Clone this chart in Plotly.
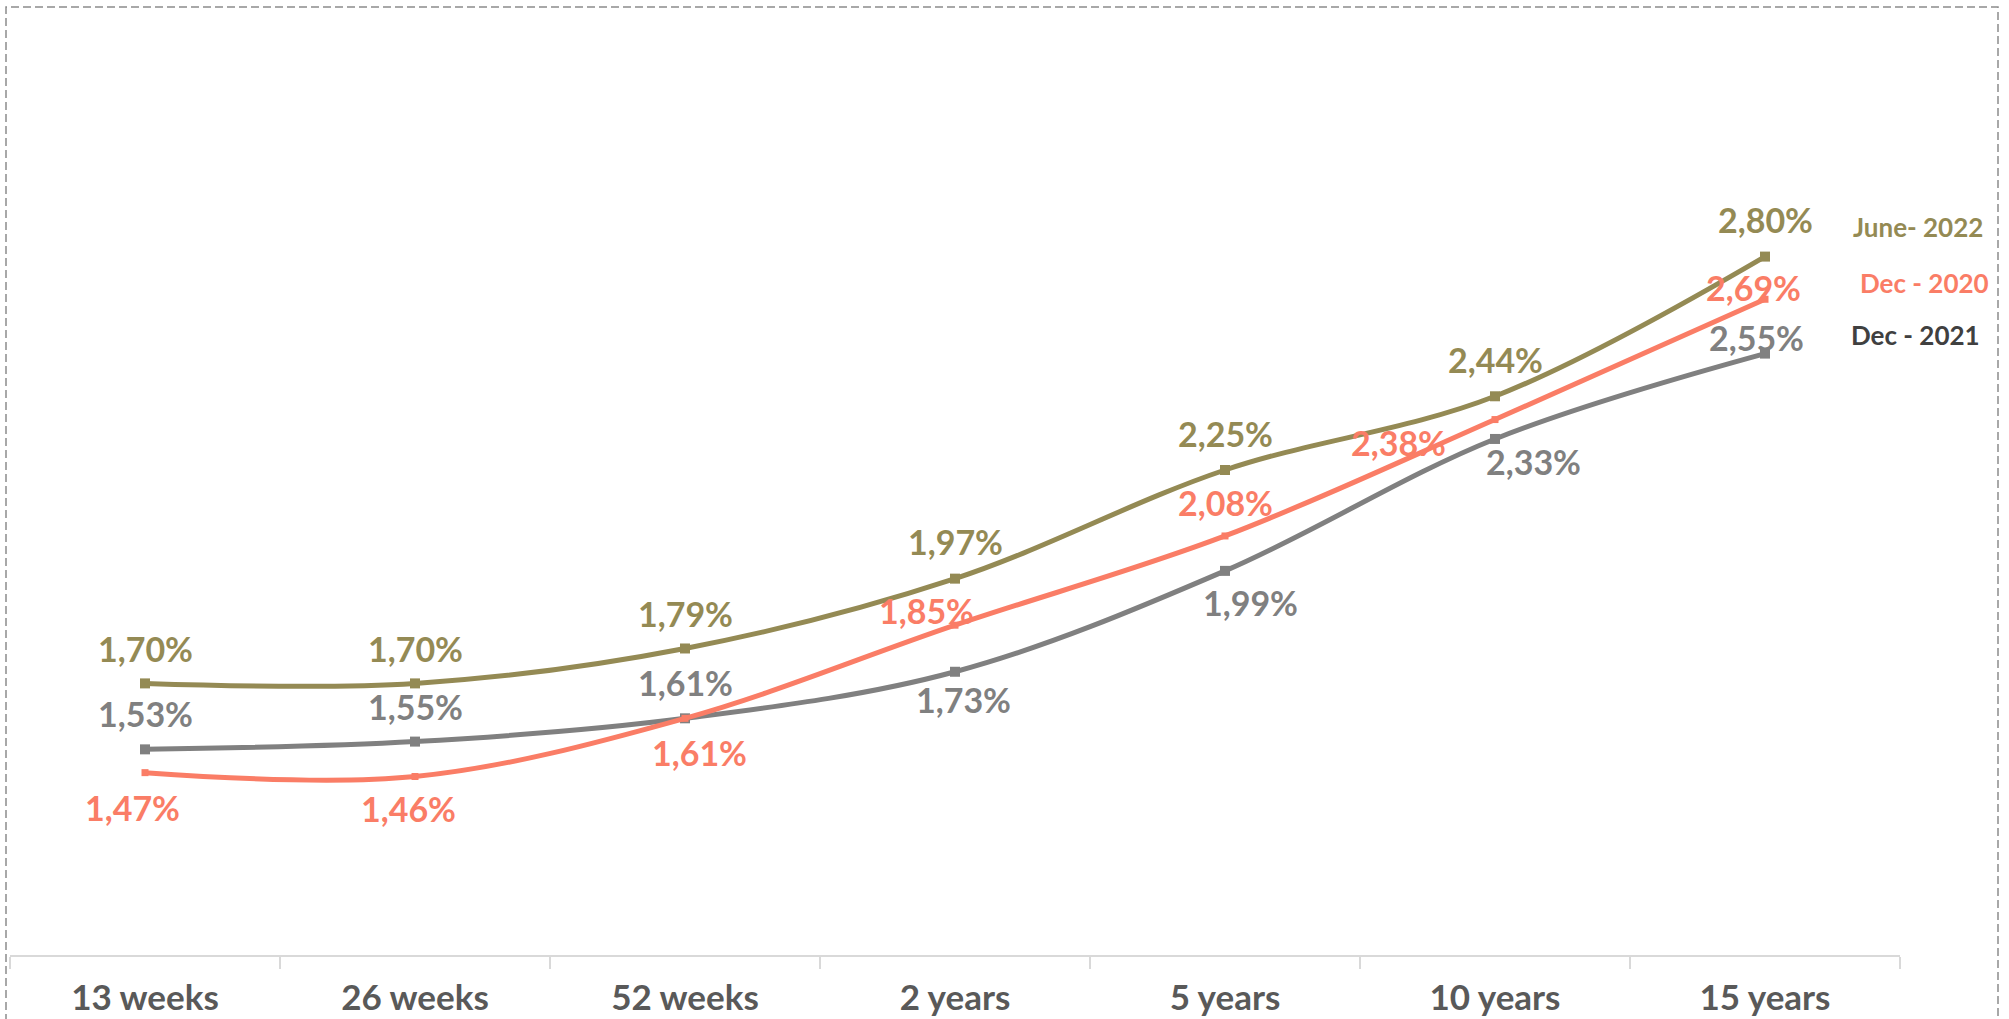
import plotly.graph_objects as go

categories = ["13 weeks", "26 weeks", "52 weeks", "2 years", "5 years", "10 years", "15 years"]
june_2022 = [1.70, 1.70, 1.79, 1.97, 2.25, 2.44, 2.80]
dec_2020 = [1.47, 1.46, 1.61, 1.85, 2.08, 2.38, 2.69]
dec_2021 = [1.53, 1.55, 1.61, 1.73, 1.99, 2.33, 2.55]
series_names = ["June- 2022", "Dec - 2020", "Dec - 2021"]

OLIVE = "#948A54"
SALMON = "#FA7D66"
GRAY = "#808080"
LEGEND_DARK = "#404040"
FONT = "Lato"

# label offsets in pixels (x, y), y positive = up
off_june = [(0, 35), (0, 35), (0, 35), (0, 37), (0, 37), (0, 37), (0, 37)]
off_dec20 = [(-13, -35), (-7, -32), (14, -34), (-29, 15), (0, 33), (-97, -23), (-12, 12)]
off_dec21 = [(0, 36), (0, 35), (0, 36), (8, -28), (25, -32), (38, -23), (-9, 16)]

W, H = 2009, 1019
ML, MR, MT, MB = 10, 109, 179, 64

fig = go.Figure()

def add_series(vals, color, msize, name):
    fig.add_trace(go.Scatter(
        x=categories, y=vals, mode="lines+markers", name=name,
        line=dict(color=color, width=5, shape="spline", smoothing=1.0),
        marker=dict(symbol="square", size=msize, color=color),
        showlegend=False, hoverinfo="skip",
    ))

add_series(dec_2021, GRAY, 10, series_names[2])
add_series(dec_2020, SALMON, 7, series_names[1])
add_series(june_2022, OLIVE, 10, series_names[0])

def fmt(v):
    return f"{v:.2f}%".replace(".", ",")

def add_labels(vals, offs, color):
    for c, v, (dx, dy) in zip(categories, vals, offs):
        fig.add_annotation(x=c, y=v, text=fmt(v), showarrow=False,
                           xshift=dx, yshift=dy,
                           font=dict(family=FONT, size=34, color=color, weight="bold"))

add_labels(june_2022, off_june, OLIVE)
add_labels(dec_2021, off_dec21, GRAY)
add_labels(dec_2020, off_dec20, SALMON)

pw = W - ML - MR
ph = H - MT - MB
def px(xp):
    return (xp - ML) / pw
def py(yp):
    return (H - MB - yp) / ph

legend_pos = [(1918, 227), (1924, 283), (1915, 335)]
legend_cols = [OLIVE, SALMON, LEGEND_DARK]
for name, (lx, ly), col in zip(series_names, legend_pos, legend_cols):
    fig.add_annotation(xref="paper", yref="paper", x=px(lx), y=py(ly), text=name,
                       showarrow=False, xanchor="center", yanchor="middle",
                       font=dict(family=FONT, size=26, color=col, weight="bold"))

# dashed outer border
fig.add_shape(type="rect", xref="paper", yref="paper",
              x0=px(6), x1=px(1998), y0=py(1040), y1=py(7),
              line=dict(color="#8C8C8C", width=1.5, dash="8px,4px"),
              fillcolor="rgba(0,0,0,0)", layer="below")

fig.update_layout(
    width=W, height=H,
    margin=dict(l=ML, r=MR, t=MT, b=MB, autoexpand=False),
    paper_bgcolor="white", plot_bgcolor="white",
    xaxis=dict(
        type="category", range=[-0.5, 6.5], showgrid=False, zeroline=False,
        automargin=False,
        showline=True, linecolor="#D9D9D9", linewidth=2,
        ticks="outside", tickson="boundaries", ticklen=12, tickcolor="#D9D9D9", tickwidth=2,
        tickfont=dict(family=FONT, size=35, color="#595959", weight="bold"),
        ticklabelstandoff=11,
    ),
    yaxis=dict(range=[1.0, 3.0], visible=False, showgrid=False, zeroline=False, automargin=False),
)

fig.write_html("out.html")
